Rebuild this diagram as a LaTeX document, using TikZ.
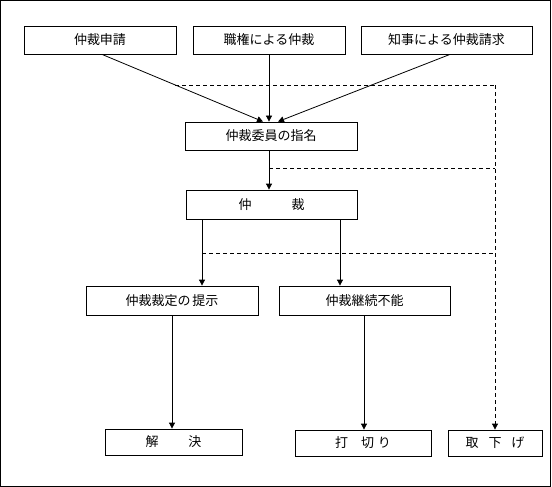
\documentclass[tikz,border=0pt]{standalone}
\usepackage{fontspec}
\setmainfont{Noto Sans CJK JP}
\usetikzlibrary{arrows.meta,calc}
\begin{document}
\begin{tikzpicture}[x=1pt,y=-1pt,
  box/.style={draw,line width=0.8pt,rectangle,inner sep=0pt,minimum height=28pt,font=\fontsize{13}{15}\selectfont},
  arr/.style={line width=0.8pt,-{Triangle[length=6pt,width=6pt]}},
  dsh/.style={line width=0.8pt,dash pattern=on 4pt off 3pt}]
\useasboundingbox (0,0) rectangle (552,487);
\draw[line width=1pt] (0.8,0.8) rectangle (550.8,486);
\node[box,minimum width=152pt] (a) at (100,40) {仲裁申請};
\node[box,minimum width=152pt] (b) at (269,40) {職権による仲裁};
\node[box,minimum width=171pt] (c) at (446.5,40) {知事による仲裁請求};
\node[box,minimum width=172pt] (d) at (271,136) {仲裁委員の指名};
\node[box,minimum width=171pt,minimum height=29pt] (e) at (271.5,204.5) {仲\hspace{40pt}裁};
\node[box,minimum width=172pt,minimum height=29pt] (f) at (172,300.5) {仲裁裁定の\hspace{2pt}提示};
\node[box,minimum width=171pt,minimum height=29pt] (g) at (364.5,300.5) {仲裁継続不能};
\node[box,minimum width=137pt,minimum height=26pt] (h) at (173.5,442) {解\hspace{30pt}決};
\node[box,minimum width=136pt,minimum height=26pt] (i) at (363,443) {打\hspace{13pt}切\hspace{4pt}り};
\node[box,minimum width=94pt,minimum height=26pt] (j) at (495,443) {取\hspace{10pt}下\hspace{10pt}げ};
% solid arrows
\coordinate (a1) at ([xshift=2pt]a.south);
\coordinate (d1) at ([xshift=-8pt]d.north);
\coordinate (c1) at ([xshift=3.5pt]c.south);
\coordinate (d3) at ([xshift=7pt]d.north);
\draw[arr] (a1) -- (d1);
\draw[arr] (b.south) -- (b.south |- d.north);
\draw[arr] (c1) -- (d3);
\coordinate (d2) at ([xshift=-2pt]d.south);
\draw[arr] (d2) -- (d2 |- e.north);
\coordinate (e1) at ([xshift=-69.5pt]e.south);
\coordinate (e2) at ([xshift=68.5pt]e.south);
\draw[arr] (e1) -- (e1 |- f.north);
\draw[arr] (e2) -- (e2 |- g.north);
\draw[arr] (f.south) -- (f.south |- h.north);
\draw[arr] ([xshift=-0.5pt]g.south) -- ([xshift=-0.5pt]g.south |- i.north);
% dashed withdrawal lines
\coordinate (p1) at ($(a1)!0.456!(d1)$);
\coordinate (p2) at ($(d2)!0.45!(d2 |- e.north)$);
\coordinate (p3) at ($(e1)!0.52!(e1 |- f.north)$);
\draw[dsh] (p1) -- (p1 -| j.north);
\draw[dsh] (p2) -- (p2 -| j.north);
\draw[dsh] (p3) -- (p3 -| j.north);
\draw[dsh,arr] (p1 -| j.north) -- (j.north);
\end{tikzpicture}
\end{document}
